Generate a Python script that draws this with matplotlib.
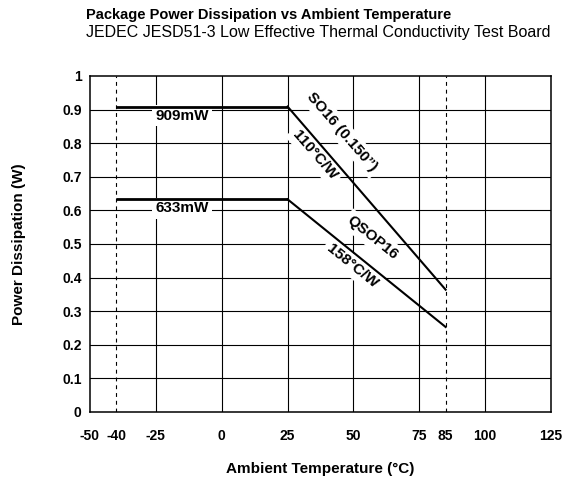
import matplotlib
matplotlib.use("Agg")
import matplotlib.pyplot as plt

plt.rcParams["font.family"] = ["Liberation Sans", "DejaVu Sans"]

# Dados
temp_so16 = [-40, 25, 85]
pd_so16 = [0.909, 0.909, 0.364]
temp_qsop = [-40, 25, 85]
pd_qsop = [0.633, 0.633, 0.253]

x_ticks = [-50, -40, -25, 0, 25, 50, 75, 85, 100, 125]
x_grid = [-25, 0, 25, 50, 75, 100]
x_dashed = [-40, 85]
y_ticks = [0, 0.1, 0.2, 0.3, 0.4, 0.5, 0.6, 0.7, 0.8, 0.9, 1]
y_tick_labels = ["0", "0.1", "0.2", "0.3", "0.4", "0.5", "0.6", "0.7", "0.8", "0.9", "1"]

fig = plt.figure(figsize=(5.66, 4.83), dpi=100)
ax = fig.add_axes([0.159, 0.147, 0.8145, 0.6957])

ax.set_xlim(-50, 125)
ax.set_ylim(0, 1)

# grade
for x in x_grid:
    ax.axvline(x, color="black", lw=0.8, zorder=1)
for x in x_dashed:
    ax.axvline(x, color="black", lw=0.8, ls=(0, (3.5, 3.5)), zorder=1)
for y in y_ticks[1:-1]:
    ax.axhline(y, color="black", lw=0.8, zorder=1)

# curvas: trecho plano mais grosso, trecho de derating mais fino
ax.plot(temp_so16[:2], pd_so16[:2], color="black", lw=2.0, zorder=4, solid_capstyle="butt")
ax.plot(temp_so16[1:], pd_so16[1:], color="black", lw=1.5, zorder=4)
ax.plot(temp_qsop[:2], pd_qsop[:2], color="black", lw=2.0, zorder=4, solid_capstyle="butt")
ax.plot(temp_qsop[1:], pd_qsop[1:], color="black", lw=1.5, zorder=4)

box = dict(facecolor="white", edgecolor="none", pad=2.5)
kw = dict(fontsize=11, fontweight="bold", ha="center", va="center",
          bbox=box, zorder=3, rotation_mode="anchor")
ax.text(-15, 0.882, "909mW", **kw)
ax.text(-15, 0.607, "633mW", **kw)
ax.text(45.7, 0.833, "SO16 (0.150\u201d)", rotation=-49, **kw)
ax.text(35.4, 0.765, "110\u00b0C/W", rotation=-49, **kw)
ax.text(57.4, 0.518, "QSOP16", rotation=-39, **kw)
ax.text(49.5, 0.435, "158\u00b0C/W", rotation=-39, **kw)

ax.set_xticks(x_ticks)
ax.set_xticklabels([str(t) for t in x_ticks])
ax.set_yticks(y_ticks)
ax.set_yticklabels(y_tick_labels)
ax.tick_params(length=0, labelsize=10)
ax.tick_params(axis="x", pad=12)
ax.tick_params(axis="y", pad=6)
for lab in ax.get_xticklabels() + ax.get_yticklabels():
    lab.set_fontweight("bold")

for s in ax.spines.values():
    s.set_linewidth(1.1)
    s.set_color("black")

ax.set_xlabel("Ambient Temperature (\u00b0C)", fontsize=11, fontweight="bold", labelpad=14)
ax.set_ylabel("Power Dissipation (W)", fontsize=11, fontweight="bold", labelpad=26)

fig.text(0.152, 0.969, "Package Power Dissipation vs Ambient Temperature",
         fontsize=10.5, fontweight="bold", va="center", ha="left")
fig.text(0.152, 0.932, "JEDEC JESD51-3 Low Effective Thermal Conductivity Test Board",
         fontsize=11.5, va="center", ha="left")

fig.savefig("out.png", dpi=100)
